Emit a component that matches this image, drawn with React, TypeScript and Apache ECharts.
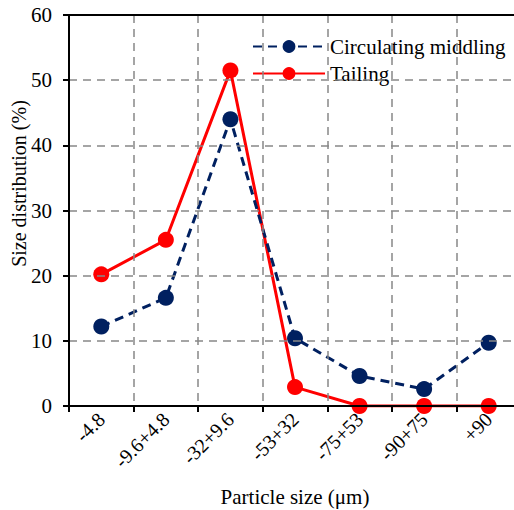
import React, { useEffect, useRef } from "react";
import * as echarts from "echarts";

const categories = ["-4.8", "-9.6+4.8", "-32+9.6", "-53+32", "-75+53", "-90+75", "+90"];
const circulatingMiddling = [12.2, 16.6, 44.0, 10.4, 4.6, 2.6, 9.7];
const tailing = [20.2, 25.5, 51.5, 2.9, 0, 0, 0];
const yTicks = { min: 0, max: 60, interval: 10 };

const FONT = "Liberation Serif";

export default function App() {
  const ref = useRef<HTMLDivElement>(null);
  useEffect(() => {
    if (!ref.current) return;
    const chart = echarts.init(ref.current, undefined, { renderer: "svg" });
    chart.setOption({
      animation: false,
      textStyle: { fontFamily: FONT, color: "#000" },
      grid: {
        left: 69,
        top: 15,
        right: 19,
        bottom: 104,
        containLabel: false,
        outerBoundsMode: "none",
      },
      legend: {
        orient: "vertical",
        left: 247,
        top: 31,
        itemWidth: 72,
        itemHeight: 16,
        itemGap: 6,
        textStyle: { fontFamily: FONT, fontSize: 21, color: "#000" },
        data: ["Circulating middling", "Tailing"],
      },
      xAxis: [
        {
          type: "category",
          data: categories,
          boundaryGap: true,
          name: "Particle size (μm)",
          nameLocation: "middle",
          nameGap: 80,
          nameMoveOverlap: false,
          nameTextStyle: { fontFamily: FONT, fontSize: 21, color: "#000" },
          axisLine: { lineStyle: { color: "#000", width: 2 } },
          axisTick: { show: true, length: 6, lineStyle: { color: "#000", width: 2 } },
          axisLabel: {
            rotate: 45,
            fontFamily: FONT,
            fontSize: 20,
            color: "#000",
            margin: 10,
          },
          splitLine: {
            show: true,
            lineStyle: { color: "#888", type: [8, 6], width: 1.5 },
          },
          z: 5,
        },
        {
          type: "category",
          data: categories,
          position: "top",
          axisLine: { show: true, lineStyle: { color: "#000", width: 2 } },
          axisTick: { show: false },
          axisLabel: { show: false },
          splitLine: { show: false },
          z: 5,
        },
      ],
      yAxis: {
        type: "value",
        min: yTicks.min,
        max: yTicks.max,
        interval: yTicks.interval,
        name: "Size distribution (%)",
        nameLocation: "middle",
        nameGap: 40,
        nameMoveOverlap: false,
        nameTextStyle: { fontFamily: FONT, fontSize: 20, color: "#000", padding: [0, 0, 0, 54] },
        axisLine: { show: true, lineStyle: { color: "#000", width: 2 } },
        axisTick: { show: true, length: 6, lineStyle: { color: "#000", width: 2 } },
        axisLabel: { fontFamily: FONT, fontSize: 21, color: "#000", margin: 17 },
        splitLine: {
          show: true,
          lineStyle: { color: "#888", type: [8, 6], width: 1.5 },
        },
        z: 5,
      },
      series: [
        {
          name: "Circulating middling",
          type: "line",
          data: circulatingMiddling,
          symbol: "circle",
          symbolSize: 16,
          itemStyle: { color: "#002060" },
          lineStyle: { color: "#002060", width: 3, type: [9, 6] },
          z: 3,
        },
        {
          name: "Tailing",
          type: "line",
          data: tailing,
          symbol: "circle",
          symbolSize: 16,
          itemStyle: { color: "#FF0000" },
          lineStyle: { color: "#FF0000", width: 3 },
          z: 2,
        },
      ],
    });
    return () => chart.dispose();
  }, []);
  return (
    <div
      ref={ref}
      style={{ position: "fixed", left: 0, top: 0, width: 540, height: 510, background: "#fff" }}
    />
  );
}
